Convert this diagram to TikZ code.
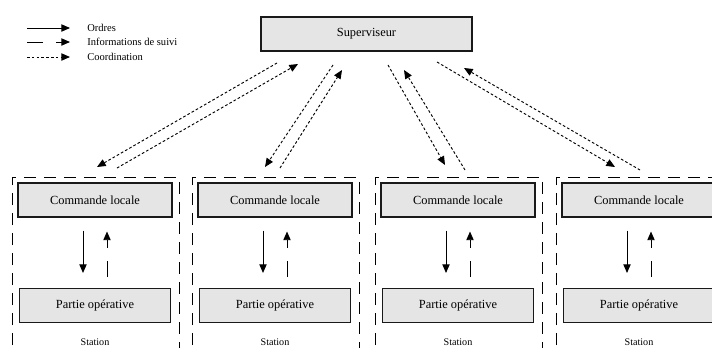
\documentclass[tikz,border=0pt]{standalone}
\usepackage{fontspec}
\setmainfont{Liberation Serif}
\usetikzlibrary{arrows.meta,positioning}

\tikzset{
  boite/.style={draw=black!90, fill=black!10, line width=0.8pt, minimum height=25.5pt,
    inner sep=0pt, font=\fontsize{9.3}{11}\selectfont},
  legende/.style={inner sep=0pt, font=\fontsize{7.9}{9}\selectfont},
  petit/.style={inner sep=0pt, font=\fontsize{7.6}{9}\selectfont},
  station/.style={line width=0.75pt, dash pattern=on 9pt off 6pt},
  ordre/.style={->, line width=0.7pt},
  info/.style={->, line width=0.7pt, dash pattern=on 12pt off 10pt},
  coord/.style={->, line width=0.7pt, dash pattern=on 2pt off 1.6pt},
}

\begin{document}
\begin{tikzpicture}[x=0.75pt, y=-0.75pt, >={Triangle[length=6.5pt,width=5.5pt]}]
  \useasboundingbox (0,0) rectangle (712,347);

  % Superviseur
  \node[boite, minimum width=158.25pt] (sup) at (366.5,34) {Superviseur};

  % Legende
  \foreach \j/\sty/\txt/\yy in {1/ordre/Ordres/28, 2/info/Informations de suivi/42, 3/coord/Coordination/57}{
    \node[legende, anchor=west] (leg\j) at (87,\yy) {\txt};
    \coordinate (lga\j) at (27,\yy);
    \coordinate (lgb\j) at (70,\yy);
    \draw[\sty] (lga\j) -- (lgb\j);
  }

  % Stations
  \foreach \i/\x in {1/12, 2/192, 3/375, 4/556}{
    \draw[station] (\x,365) -- (\x,177) -- (\x+167,177) -- (\x+167,365);
    \node[boite, minimum width=115.5pt] (cl\i) at (\x+83,200) {Commande locale};
    \node[boite, minimum width=113.25pt] (po\i) at (\x+83,305.5) {Partie opérative};
    \node[petit] (st\i) at (\x+83,342) {Station};
    \draw[ordre] ([xshift=-9pt,yshift=-9.75pt]cl\i.south) -- ([xshift=-9pt,yshift=11.25pt]po\i.north);
    \draw[info] ([xshift=9pt,yshift=8.25pt]po\i.north) -- ([xshift=9pt,yshift=-10.5pt]cl\i.south);
  }

  % Coordination superviseur <-> stations
  \foreach \i/\ax/\ay/\bx/\by/\cx/\cy/\ex/\ey in {
      1/277/63/97/167/117/168/298/64,
      2/333/65/265/167/280/168/342/70,
      3/388/65/445/165/465/170/404/70,
      4/437/62/615/167/640/170/464/68}{
    \coordinate (sd\i) at (\ax,\ay); % depart superviseur
    \coordinate (sa\i) at (\bx,\by); % arrivee station
    \coordinate (ed\i) at (\cx,\cy); % depart station
    \coordinate (ea\i) at (\ex,\ey); % arrivee superviseur
    \draw[coord] (sd\i) -- (sa\i);
    \draw[coord] (ed\i) -- (ea\i);
  }
\end{tikzpicture}
\end{document}
